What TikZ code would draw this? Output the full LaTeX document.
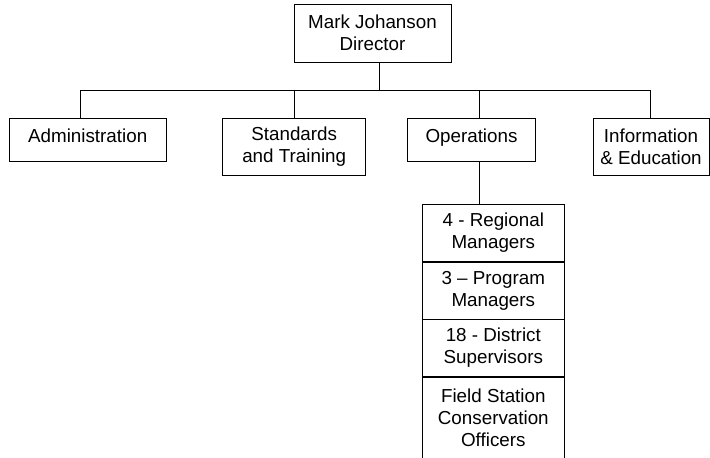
\documentclass[tikz,border=0pt]{standalone}
\usepackage{fontspec}
\setmainfont{Liberation Sans}
\begin{document}
\begin{tikzpicture}[x=1pt,y=-1pt,
  txt/.style={align=center, inner sep=0pt, font=\fontsize{18.8}{21.8}\selectfont},
  box/.style={txt, draw, line width=0.8pt},
  conn/.style={line width=0.8pt, line cap=rect}]
\useasboundingbox (0,0) rectangle (710,458);
% top
\node[box, minimum width=157pt, minimum height=58pt] (top) at (372.5,33) {Mark Johanson\\Director};
% second row
\node[box, minimum width=156.7pt, minimum height=42.7pt, text depth=8pt] (admin) at (87.7,139.6) {Administration};
\node[box, minimum width=143pt, minimum height=56.7pt] (std) at (294.2,146.6) {Standards\\and Training};
\node[box, minimum width=128pt, minimum height=42.7pt, text depth=8pt] (ops) at (471.5,139.6) {Operations};
\node[box, minimum width=116pt, minimum height=56.7pt] (info) at (651,146.6) {Information\\\& Education};
% stack
\node[box, minimum width=142pt, minimum height=57.5pt, anchor=north] (s1) at (493.3,203.5) {4 - Regional\\Managers};
\node[box, minimum width=142pt, minimum height=56.7pt, anchor=north] (s2) at (s1.south) {3 – Program\\Managers};
\node[box, minimum width=142pt, minimum height=56.6pt, anchor=north] (s3) at (s2.south) {18 - District\\Supervisors};
\node[box, minimum width=142pt, minimum height=96pt, anchor=north] (s4) at (s3.south) {};
\node[txt, anchor=north] (s4t) at ([yshift=-12.2pt]s4.north) {Field Station\\Conservation\\Officers};
% connectors
\coordinate (busL) at (80.7,90);
\coordinate (busR) at (650,90);
\draw[conn] (busL) -- (busR);
\draw[conn] ([xshift=6.5pt]top.south) -- ([xshift=6.5pt]top.south |- busL);
\draw[conn] ([xshift=-7pt]admin.north) -- ([xshift=-7pt]admin.north |- busL);
\draw[conn] (std.north) -- (std.north |- busL);
\draw[conn] ([xshift=7.5pt]ops.north) -- ([xshift=7.5pt]ops.north |- busL);
\draw[conn] ([xshift=-1pt]info.north) -- ([xshift=-1pt]info.north |- busL);
\draw[conn] ([xshift=7.5pt]ops.south) -- ([xshift=7.5pt]ops.south |- s1.north);
\end{tikzpicture}
\end{document}
